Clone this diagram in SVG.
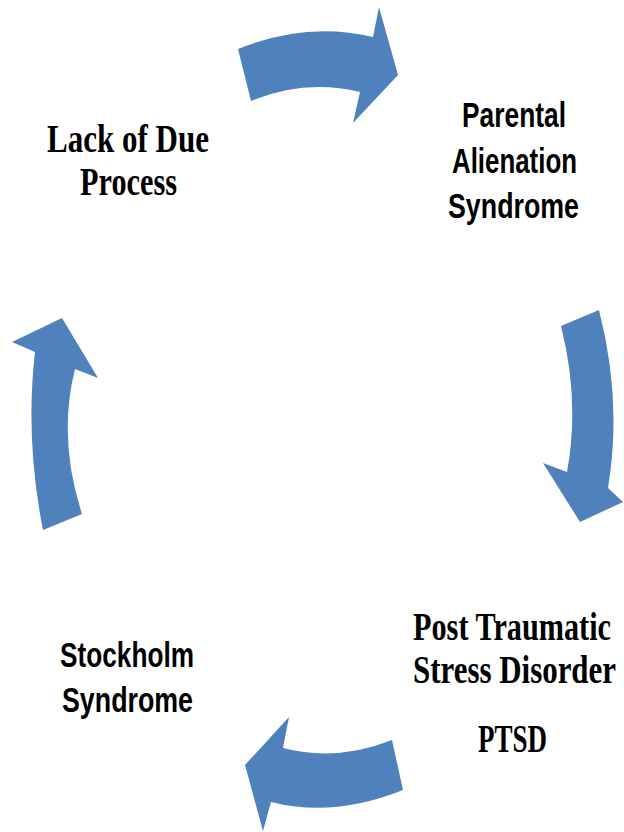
<svg xmlns="http://www.w3.org/2000/svg" width="624" height="832" viewBox="0 0 624 832">
<style>
.arr{fill:#4F81BD;stroke:none}
.serif{font-family:"Liberation Serif","Times New Roman",serif;font-weight:bold;font-size:39px;fill:#000;text-anchor:middle}
.sans{font-family:"Liberation Sans",Arial,sans-serif;font-weight:bold;font-size:35px;fill:#000;text-anchor:middle}
</style>
<rect width="624" height="832" fill="#fff"/>
<g id="connectors">
<path class="arr" d="M238,49 Q306.5,21 373,37 L379,7 L398,75 L353,123 L360,92 Q304.5,78.5 251,101 Z"/>
<path class="arr" d="M561,326 L599,310 Q622.5,401 608,488 L623,502 L580,522 L543,463 L567,472 Q580,401 561,326 Z"/>
<path class="arr" d="M392,740 L403,790 Q333,818 271,802 L263,831 L245,765 L289,717 L283,748 Q336.5,762 392,740 Z"/>
<path class="arr" d="M43,530 L82,514 Q57.5,438.5 75,369 L98,378 L62,318 L12,342 L35,352 Q25,439 43,530 Z"/>
</g>
<g id="node-lack">
<text class="serif" transform="translate(128,152) scale(0.78,1)" x="0" y="0" textLength="207.7" lengthAdjust="spacingAndGlyphs">Lack of Due</text>
<text class="serif" transform="translate(128.5,195) scale(0.78,1)" x="0" y="0" textLength="124.4" lengthAdjust="spacingAndGlyphs">Process</text>
</g>
<g id="node-pas">
<text class="sans" transform="translate(514,127) scale(0.76,1)" x="0" y="0" textLength="136.8" lengthAdjust="spacingAndGlyphs">Parental</text>
<text class="sans" transform="translate(514.5,173) scale(0.76,1)" x="0" y="0" textLength="164.5" lengthAdjust="spacingAndGlyphs">Alienation</text>
<text class="sans" transform="translate(513.5,218) scale(0.76,1)" x="0" y="0" textLength="172.4" lengthAdjust="spacingAndGlyphs">Syndrome</text>
</g>
<g id="node-ptsd">
<text class="serif" transform="translate(512,640) scale(0.78,1)" x="0" y="0" textLength="253.8" lengthAdjust="spacingAndGlyphs">Post Traumatic</text>
<text class="serif" transform="translate(514.5,683) scale(0.78,1)" x="0" y="0" textLength="260.3" lengthAdjust="spacingAndGlyphs">Stress Disorder</text>
<text class="serif" transform="translate(512.5,752) scale(0.78,1)" x="0" y="0" textLength="88.5" lengthAdjust="spacingAndGlyphs">PTSD</text>
</g>
<g id="node-stockholm">
<text class="sans" transform="translate(127,667) scale(0.76,1)" x="0" y="0" textLength="176.3" lengthAdjust="spacingAndGlyphs">Stockholm</text>
<text class="sans" transform="translate(127.5,712) scale(0.76,1)" x="0" y="0" textLength="172.4" lengthAdjust="spacingAndGlyphs">Syndrome</text>
</g>
</svg>
